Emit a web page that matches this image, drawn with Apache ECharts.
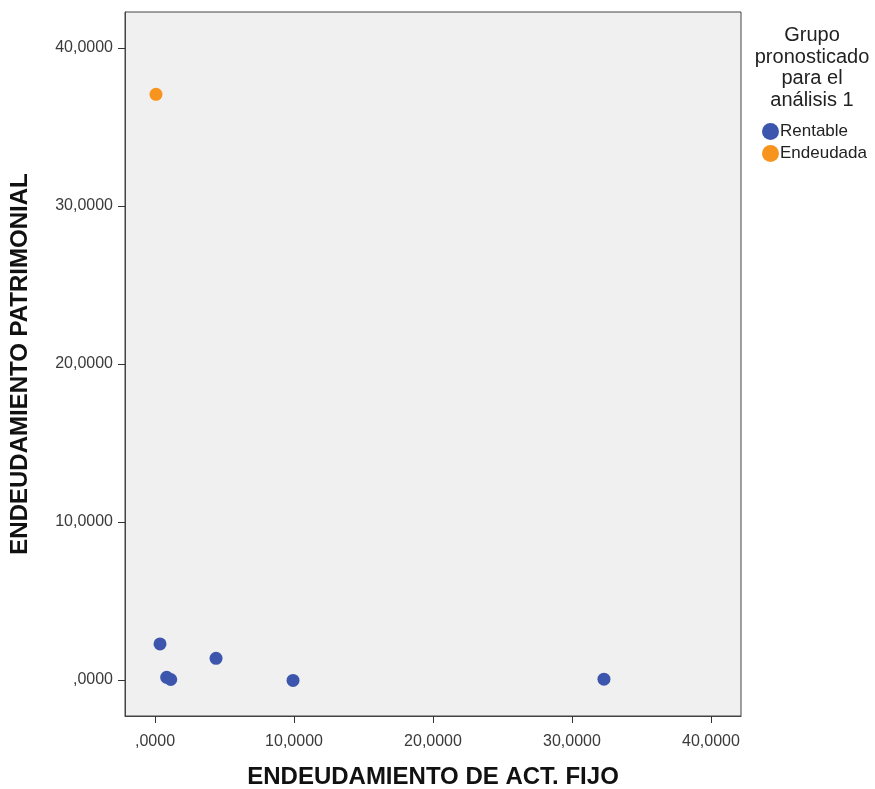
<!DOCTYPE html>
<html><head><meta charset="utf-8">
<script src="https://cdn.jsdelivr.net/npm/echarts@6/dist/echarts.min.js"></script>
<style>html,body{margin:0;padding:0;background:#fff}#c{width:875px;height:789px}</style>
</head><body><div id="c"></div>
<script>
const tickValues = [0, 10, 20, 30, 40];
const tickLabels = [',0000', '10,0000', '20,0000', '30,0000', '40,0000'];
const seriesNames = ['Rentable', 'Endeudada'];
const rentableX = [0.36, 0.84, 1.13, 4.39, 9.93, 32.3];
const rentableY = [2.28, 0.17, 0.03, 1.37, -0.03, 0.05];
const endeudadaX = [0.07];
const endeudadaY = [37.07];

const fmt = v => { const i = tickValues.indexOf(Math.round(v)); return i >= 0 ? tickLabels[i] : ''; };
const chart = echarts.init(document.getElementById('c'));
const axisCommon = {
  type: 'value',
  nameLocation: 'middle',
  nameTextStyle: {fontFamily: 'Liberation Sans', fontWeight: 'bold', fontSize: 24, color: '#111'},
  axisLine: {show: true, onZero: false, lineStyle: {color: '#444', width: 1}},
  axisTick: {show: true, inside: false, customValues: tickValues, length: 7, lineStyle: {color: '#333'}},
  axisLabel: {customValues: tickValues, formatter: fmt, fontFamily: 'Liberation Sans', fontSize: 16, color: '#3a3a3a'},
  splitLine: {show: false}
};
chart.setOption({
  animation: false,
  backgroundColor: '#fff',
  grid: {left: 125, top: 12, width: 616, height: 704, outerBoundsMode: 'none', containLabel: false,
    show: true, backgroundColor: '#f0f0f0', borderColor: '#444', borderWidth: 1},
  xAxis: Object.assign({}, axisCommon, {position: 'bottom', min: -2.16, max: 42.16, name: 'ENDEUDAMIENTO DE ACT. FIJO', nameGap: 49,
    axisLabel: Object.assign({}, axisCommon.axisLabel, {margin: 18})}),
  yAxis: Object.assign({}, axisCommon, {position: 'left', min: -2.28, max: 42.28, name: 'ENDEUDAMIENTO PATRIMONIAL', nameGap: 93,
    axisLabel: Object.assign({}, axisCommon.axisLabel, {margin: 12})}),
  legend: {orient: 'vertical', left: 757, top: 118, itemWidth: 17, itemHeight: 17, itemGap: 5, icon: 'circle',
    textStyle: {fontFamily: 'Liberation Sans', fontSize: 17, color: '#222', padding: [0, 0, 0, -4]},
    data: seriesNames},
  graphic: [{type: 'text', x: 812, y: 25, style: {text: 'Grupo\npronosticado\npara el\nanálisis 1', textAlign: 'center',
    fontFamily: 'Liberation Sans', fontSize: 20, lineHeight: 21.5, fill: '#222'}}],
  series: [
    {name: seriesNames[0], type: 'scatter', symbolSize: 13, itemStyle: {color: '#3d56ad', opacity: 1}, data: rentableX.map((x, i) => [x, rentableY[i]])},
    {name: seriesNames[1], type: 'scatter', symbolSize: 13, itemStyle: {color: '#f7941e', opacity: 1}, data: endeudadaX.map((x, i) => [x, endeudadaY[i]])}
  ]
});
</script></body></html>
